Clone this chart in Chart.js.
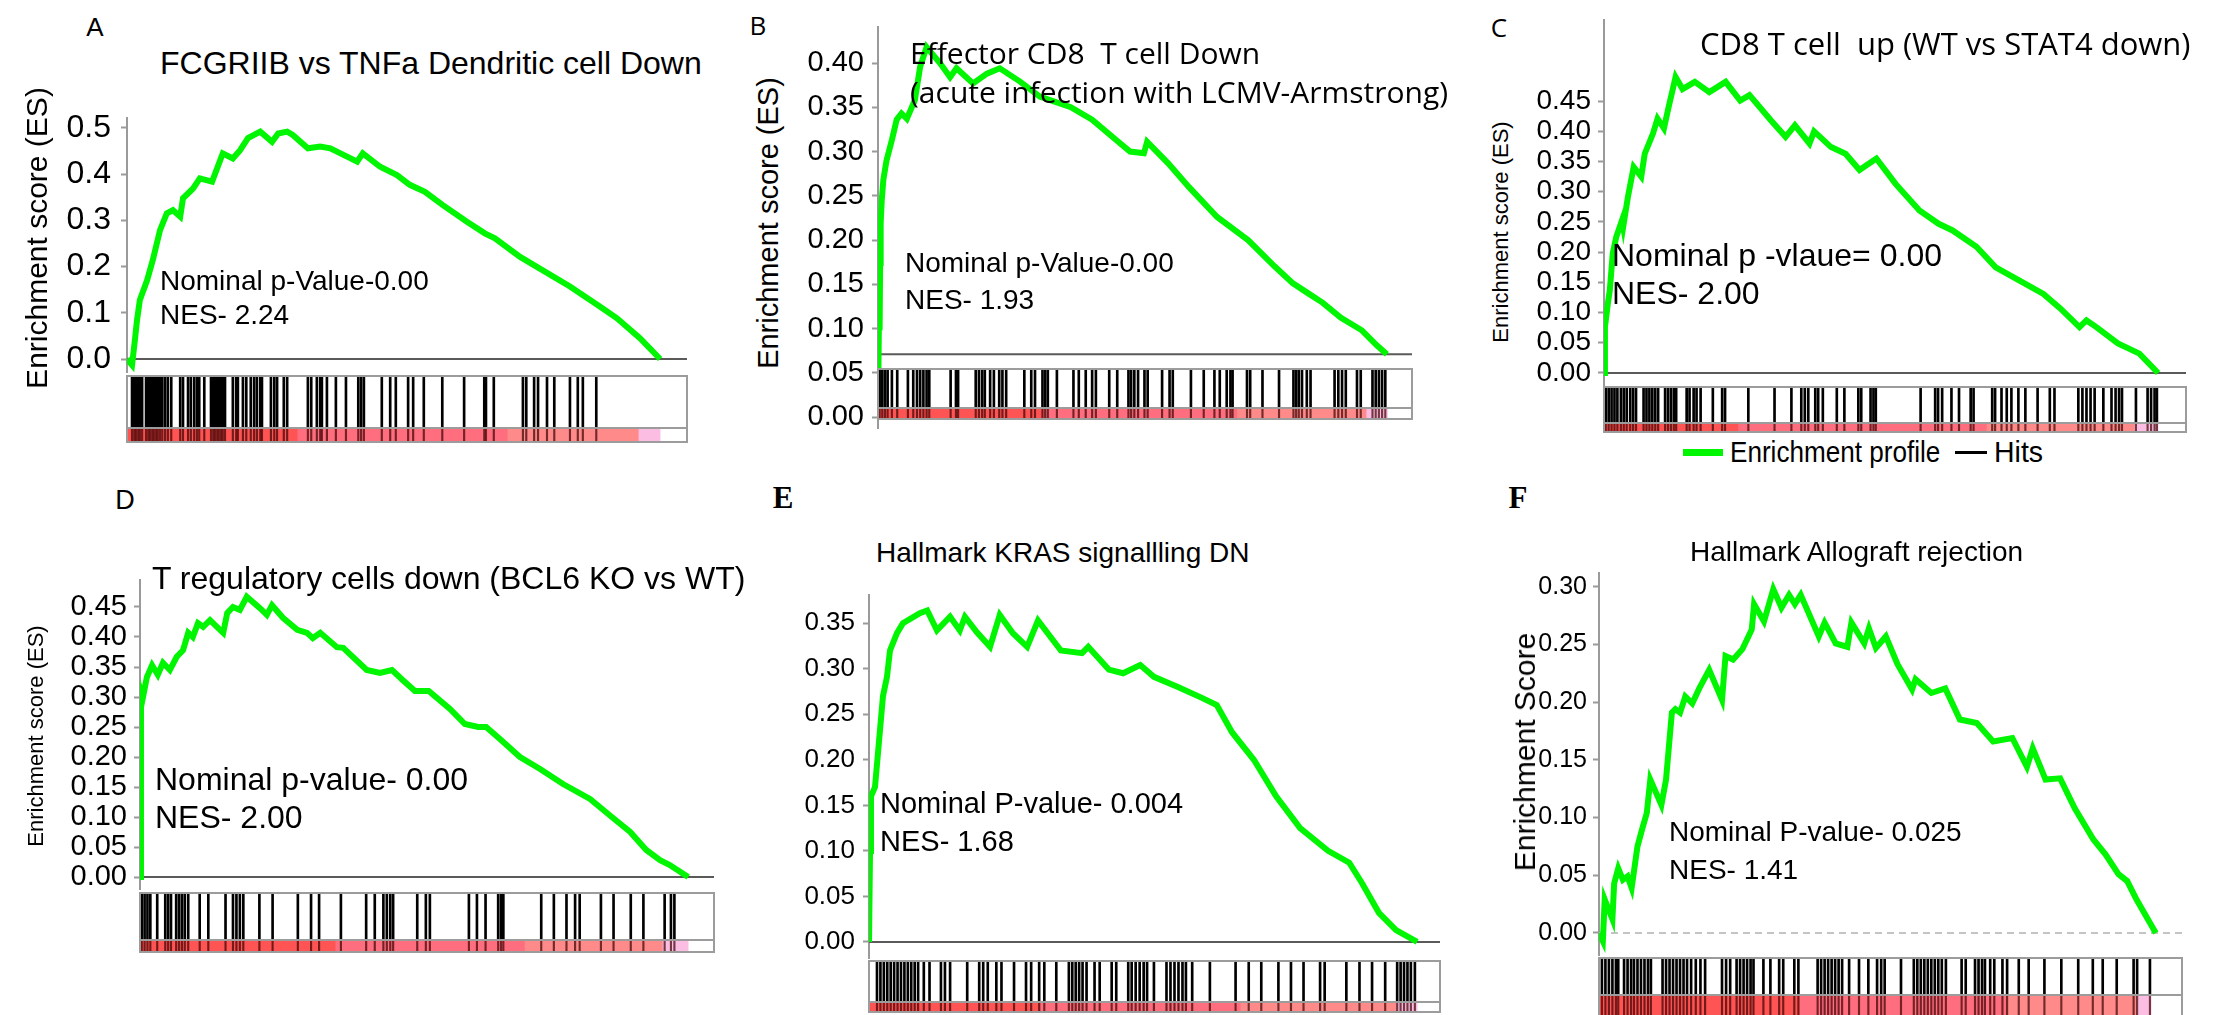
<!DOCTYPE html>
<html>
<head>
<meta charset="utf-8">
<script src="https://cdn.jsdelivr.net/npm/chart.js@4.4.1/dist/chart.umd.min.js"></script>
<style>
  body { margin:0; width:2225px; height:1015px; overflow:hidden; background:#fff; position:relative;
         font-family:'Liberation Sans', Arial, sans-serif; color:#000; }
  .t { position:absolute; white-space:pre; line-height:1; transform:translateY(-50%); transform-origin:left center; }
  .r { position:absolute; white-space:pre; line-height:1; transform:translate(-50%,-50%) rotate(-90deg); }
  canvas { position:absolute; }
</style>
</head>
<body>
<script>
// ---------- data (rank position in % of ranked list, enrichment score) ----------
const rankA = [0,0.9,1.4,1.8,2.3,3.6,4.6,5.9,7.1,8.2,9.5,10.0,11.8,13.0,15.2,17.1,18.9,20.2,21.6,23.8,25.9,27.0,28.6,29.6,32.3,34.5,36.3,39.3,41.1,42.1,45.2,48.2,50.5,53.2,56.4,60.7,63.9,65.7,70.2,79.1,84.5,87.5,91.6,95.2];
const esA   = [0,-0.013,0.04,0.085,0.128,0.171,0.214,0.279,0.315,0.322,0.308,0.348,0.369,0.391,0.384,0.445,0.434,0.452,0.478,0.492,0.470,0.488,0.492,0.485,0.456,0.460,0.456,0.438,0.427,0.445,0.416,0.398,0.377,0.362,0.333,0.297,0.272,0.261,0.221,0.157,0.113,0.088,0.045,0];
const hitsA = [0.9,1.3,1.6,2.0,2.3,2.7,3.4,3.8,4.1,4.5,4.8,5.2,5.5,5.9,6.3,6.8,7.3,7.9,9.5,10.0,10.9,11.4,12.0,12.5,12.9,13.8,15.0,15.4,15.7,16.1,16.4,16.8,17.1,17.5,18.9,19.5,19.8,20.7,21.3,22.1,22.7,23.2,23.8,24.1,25.7,26.3,26.8,28.0,28.6,32.3,32.9,33.9,34.5,34.8,35.7,37.3,39.1,41.3,41.8,42.3,45.5,47.0,48.0,50.2,51.1,53.0,56.3,60.2,63.8,64.1,65.5,70.7,71.3,72.7,73.4,75.0,76.3,79.1,80.5,81.4,83.8];
const ticksA = [0, 0.1, 0.2, 0.3, 0.4, 0.5];
const stripA = [30.4, 67.9, 91.3, 95.2];

const rankB = [0,0.2,0.3,0.4,0.5,0.7,1.0,1.6,2.6,3.5,4.4,5.4,6.9,7.9,9.1,11.6,13.5,14.7,17.8,20.4,22.8,26.6,30.3,36.1,40.1,44.6,47.2,49.8,50.4,54.3,58.2,63.5,69.3,74.3,77.7,80.5,83.3,86.7,90.6,93.4,95.3];
const esB   = [0,0.127,0.098,0.174,0.219,0.245,0.268,0.29,0.313,0.336,0.343,0.337,0.358,0.396,0.418,0.40,0.384,0.394,0.377,0.388,0.394,0.379,0.362,0.35,0.336,0.313,0.30,0.298,0.311,0.287,0.26,0.226,0.20,0.17,0.151,0.140,0.129,0.112,0.098,0.081,0.071];
const hitsB = [0.3,0.8,1.3,1.8,2.6,3.6,5.6,6.6,7.3,7.9,8.5,9.1,9.6,13.6,14.6,15.0,18.3,18.9,19.5,20.0,21.0,21.7,22.7,23.3,24.0,27.4,28.7,29.4,30.8,31.3,31.8,33.5,36.6,37.6,38.9,40.1,40.8,43.3,44.8,46.9,47.4,48.0,48.7,49.9,50.5,53.2,54.6,55.2,58.6,61.0,63.0,64.0,65.3,66.0,66.4,69.1,69.7,72.0,75.1,77.8,78.3,78.8,79.4,80.3,81.0,85.5,86.2,86.9,87.6,89.7,90.4,92.6,93.2,93.8,94.4,95.0];
const ticksB = [0, 0.05, 0.10, 0.15, 0.20, 0.25, 0.30, 0.35, 0.40];
const stripB = [30.9, 67.2, 91.4, 95.4];
const baseB = 0.071;

const rankC = [0,0.16,0.66,1.0,1.5,2.1,3.1,3.3,4.1,5.1,6.4,7.0,8.4,9.2,10.3,11.1,12.3,13.5,15.6,18.1,20.9,23.4,25.0,28.7,31.2,32.8,35.3,36.1,39.0,41.5,43.9,46.8,50.1,54.2,57.5,59.9,64.0,67.3,71.4,75.5,78.4,81.7,82.9,84.6,88.3,92.0,95.2];
const esC   = [0,0.076,0.115,0.137,0.198,0.225,0.253,0.242,0.291,0.341,0.325,0.363,0.396,0.421,0.405,0.44,0.49,0.47,0.482,0.465,0.482,0.451,0.46,0.418,0.391,0.41,0.38,0.40,0.374,0.363,0.336,0.355,0.313,0.269,0.247,0.236,0.209,0.175,0.153,0.131,0.107,0.076,0.087,0.076,0.049,0.032,0];
const hitsC = [0.3,0.8,1.3,1.8,2.3,2.9,3.4,3.9,4.5,5.0,5.5,6.8,7.3,7.8,8.3,8.8,9.3,10.5,11.0,11.5,12.0,12.4,14.2,14.7,15.4,15.9,16.6,18.7,20.3,20.8,24.8,29.3,32.2,33.9,34.5,35.1,36.3,36.8,37.6,40.0,41.3,43.7,44.2,45.8,46.3,46.7,54.4,56.9,57.4,58.1,59.7,61.0,63.0,63.5,66.7,67.2,68.3,69.2,70.0,71.2,72.4,74.5,76.6,77.4,81.5,82.2,82.9,83.6,84.3,85.8,87.2,87.9,88.5,89.0,91.4,93.4,94.0,94.6,95.0];
const ticksC = [0, 0.05, 0.10, 0.15, 0.20, 0.25, 0.30, 0.35, 0.40, 0.45];
const stripC = [23.0, 65.7, 91.1, 95.2];

const rankD = [0,0.17,0.52,1.2,2.1,3.1,4.0,5.2,6.4,7.5,8.4,9.2,10.1,11.0,12.2,13.4,14.5,15.2,16.2,17.4,18.6,20.9,22.1,23.0,24.9,27.4,29.1,30.1,31.4,34.3,35.4,39.5,41.8,43.9,45.8,47.9,50.3,54.0,56.6,58.9,60.3,62.7,66.2,69.7,73.7,78.4,82.2,85.4,88.2,90.6,92.3,95.5];
const esD   = [0,0.31,0.30,0.333,0.353,0.337,0.357,0.345,0.367,0.378,0.407,0.40,0.423,0.417,0.428,0.417,0.407,0.44,0.45,0.445,0.467,0.448,0.437,0.453,0.432,0.412,0.407,0.398,0.407,0.383,0.382,0.345,0.34,0.345,0.328,0.31,0.31,0.28,0.255,0.25,0.25,0.23,0.20,0.18,0.155,0.13,0.10,0.075,0.045,0.028,0.02,0];
const hitsD = [0.3,0.8,1.3,1.8,3.0,4.4,4.9,5.4,6.3,6.8,7.3,7.8,8.4,10.4,11.9,14.9,16.2,16.8,17.4,18.0,20.8,23.1,27.5,29.8,31.2,35.0,39.4,40.9,42.4,43.0,43.6,44.1,48.3,49.8,50.5,57.3,58.7,60.2,62.4,62.9,63.3,69.9,72.1,74.3,75.8,76.6,80.3,82.5,85.5,87.7,91.4,92.5,93.1];
const ticksD = [0, 0.05, 0.10, 0.15, 0.20, 0.25, 0.30, 0.35, 0.40, 0.45];
const stripD = [34.0, 67.0, 91.0, 95.5];

const rankE = [0,0.18,0.35,1.05,1.75,2.45,3.15,3.68,4.9,5.95,8.9,10.2,11.9,14.2,15.9,16.8,18.9,21.2,22.9,25.2,27.7,29.6,33.6,37.3,38.4,42.0,44.5,47.5,49.9,54.1,58.3,60.9,63.6,67.4,71.3,75.5,80.4,84.1,86.3,89.3,92.3,96.0];
const esE   = [0,0.10,0.16,0.17,0.22,0.27,0.291,0.32,0.339,0.35,0.361,0.364,0.342,0.357,0.342,0.357,0.34,0.324,0.359,0.339,0.324,0.353,0.32,0.317,0.324,0.299,0.295,0.304,0.291,0.28,0.268,0.26,0.23,0.20,0.16,0.125,0.10,0.087,0.065,0.032,0.013,0];
const hitsE = [1.4,2.0,2.6,3.2,3.8,4.4,5.0,5.6,6.2,6.8,7.4,8.0,8.6,9.6,10.6,12.6,13.3,14.2,17.2,19.3,20.0,20.8,22.3,23.2,25.4,27.5,28.4,29.8,30.7,32.8,35.0,35.6,36.2,36.8,37.4,38.1,39.5,40.4,42.5,43.3,45.4,46.0,46.7,47.4,48.1,48.7,49.9,52.1,52.8,53.5,54.2,54.9,55.5,56.6,59.7,64.2,66.5,68.7,71.7,73.9,76.1,79.0,79.8,83.6,85.9,88.1,90.4,92.5,93.1,93.7,94.3,94.9,95.6];
const ticksE = [0, 0.05, 0.10, 0.15, 0.20, 0.25, 0.30, 0.35];
const stripE = [30.0, 65.0, 92.3, 96.0];

const rankF = [0,0.66,0.98,2.3,2.6,3.3,4.1,4.9,5.6,6.6,7.4,8.2,8.8,10.7,11.5,12.0,12.5,13.1,13.9,14.8,16.0,17.2,18.9,21.1,21.7,23.0,24.6,26.2,26.6,28.3,29.9,31.3,32.6,33.6,34.6,37.7,38.7,40.6,42.6,43.3,45.5,46.3,47.5,49.2,51.2,53.7,54.3,57.0,59.4,61.9,64.8,67.6,70.9,73.4,74.4,76.6,79.1,81.6,84.8,86.9,89.1,90.6,92.2,95.5];
const esF   = [0,-0.007,0.029,0.012,0.043,0.056,0.046,0.049,0.039,0.075,0.09,0.104,0.133,0.111,0.133,0.162,0.191,0.194,0.191,0.205,0.199,0.212,0.228,0.202,0.24,0.237,0.246,0.263,0.285,0.27,0.298,0.282,0.293,0.285,0.293,0.257,0.269,0.251,0.248,0.269,0.251,0.264,0.247,0.257,0.233,0.211,0.22,0.208,0.212,0.185,0.182,0.166,0.169,0.144,0.16,0.133,0.134,0.108,0.081,0.068,0.051,0.045,0.029,0];
const hitsF = [0.5,1.1,1.7,2.3,2.9,3.3,4.3,4.9,5.5,6.0,6.6,7.2,7.8,8.4,8.9,10.9,11.5,12.1,12.7,13.3,13.9,14.5,15.1,15.8,16.6,17.4,18.2,21.1,21.8,22.5,23.6,24.2,24.8,25.4,26.0,26.5,28.2,29.4,30.9,31.6,33.5,34.2,37.5,38.1,38.7,39.3,39.9,40.5,41.1,41.7,42.9,44.6,46.2,47.7,48.4,49.0,51.8,54.0,54.6,55.2,55.8,56.4,57.0,57.6,58.2,58.8,59.5,62.2,62.9,64.5,65.1,65.7,66.2,67.1,67.8,69.2,70.0,72.0,73.7,76.4,79.3,82.2,84.7,86.4,88.8,91.7,92.3,94.5];
const ticksF = [0, 0.05, 0.10, 0.15, 0.20, 0.25, 0.30];
const stripF = [34.4, 70.0, 92.2, 94.7];

const stripColors = ['#ff5454', '#ff6e7e', '#ff8a8a', '#fcbde2', '#ffffff'];

// ---------- layout ----------
const SANS = "'Liberation Sans', Arial, sans-serif";
const OPEN = "'Open Sans', sans-serif";
const NARROW = "'Liberation Sans Narrow', 'Arial Narrow', 'Liberation Sans', sans-serif";
const SERIF = "'Liberation Serif', 'Times New Roman', serif";

const panels = [
  { rank: rankA, es: esA, hits: hitsA, ticks: ticksA, strip: stripA, base: 0, dec: 1,
    L: 127, R: 687, T: 118, B: 372, ymin: -0.0281, ymax: 0.5216, box: [376, 428, 442],
    tickFont: { family: SANS, size: 32 }, tickPad: 10 },
  { rank: rankB, es: esB, hits: hitsB, ticks: ticksB, strip: stripB, base: baseB, dec: 2,
    L: 878, R: 1412, T: 27, B: 428, ymin: -0.0124, ymax: 0.4407, box: [369, 408, 419],
    tickFont: { family: SANS, size: 29 }, tickPad: 8 },
  { rank: rankC, es: esC, hits: hitsC, ticks: ticksC, strip: stripC, base: 0, dec: 2,
    L: 1604, R: 2186, T: 20, B: 385, ymin: -0.0199, ymax: 0.5844, box: [387, 423, 432],
    tickFont: { family: SANS, size: 28 }, tickPad: 7 },
  { rank: rankD, es: esD, hits: hitsD, ticks: ticksD, strip: stripD, base: 0, dec: 2,
    L: 140, R: 714, T: 580, B: 889, ymin: -0.02, ymax: 0.495, box: [893, 940, 952],
    tickFont: { family: SANS, size: 29 }, tickPad: 7 },
  { rank: rankE, es: esE, hits: hitsE, ticks: ticksE, strip: stripE, base: 0, dec: 2,
    L: 869, R: 1440, T: 595, B: 958, ymin: -0.0176, ymax: 0.3809, box: [961, 1002, 1012],
    tickFont: { family: NARROW, size: 26 }, tickPad: 8 },
  { rank: rankF, es: esF, hits: hitsF, ticks: ticksF, strip: stripF, base: 0, dec: 2, dashedBase: true,
    L: 1599, R: 2182, T: 573, B: 955, ymin: -0.0191, ymax: 0.312, box: [958, 995, 1018],
    tickFont: { family: NARROW, size: 25 }, tickPad: 6 }
];

Chart.defaults.animation = false;
Chart.defaults.events = [];
Chart.defaults.plugins.legend.display = false;
Chart.defaults.plugins.tooltip.enabled = false;

function mk(cls, css, text) {
  const e = document.createElement('div');
  if (cls) e.className = cls;
  e.style.cssText = css;
  if (text) e.textContent = text;
  document.body.appendChild(e);
  return e;
}

function canvasAt(x, y, w, h) {
  const c = document.createElement('canvas');
  c.width = w; c.height = h;
  c.style.cssText = `left:${x}px;top:${y}px;width:${w}px;height:${h}px`;
  document.body.appendChild(c);
  return c;
}

function drawHits(p) {
  const [top, stripTop, bottom] = p.box;
  const w = p.R - p.L;
  const edges = [0, ...p.strip, 100];
  new Chart(canvasAt(p.L, stripTop, w, bottom - stripTop), {
    type: 'bar',
    data: { labels: ['metric'], datasets: edges.slice(0, -1).map((e, i) => ({
      data: [[e, edges[i + 1]]], backgroundColor: stripColors[i], borderWidth: 0,
      barPercentage: 1, categoryPercentage: 1, grouped: false })) },
    options: { indexAxis: 'y', responsive: false, layout: { padding: 0 },
      scales: { x: { type: 'linear', min: 0, max: 100, display: false }, y: { display: false } } }
  });
  const f = (bottom - stripTop) / (bottom - top);
  new Chart(canvasAt(p.L, top, w, bottom - top), {
    type: 'bar',
    data: { datasets: [
      { data: p.hits.map(h => ({ x: h, y: [f, 1] })), backgroundColor: '#000', barThickness: 2, grouped: false },
      { data: p.hits.map(h => ({ x: h, y: [0, f] })), backgroundColor: 'rgba(60,0,0,0.7)', barThickness: 1.5, grouped: false }
    ] },
    options: { responsive: false, layout: { padding: 0 },
      scales: { x: { type: 'linear', min: 0, max: 100, display: false, offset: false },
                y: { min: 0, max: 1, display: false } } }
  });
  mk('', `position:absolute;left:${p.L - 1}px;top:${top - 1}px;width:${w + 2}px;height:${bottom - top + 2}px;border:2px solid #9c9c9c;box-sizing:border-box`);
  mk('', `position:absolute;left:${p.L}px;top:${stripTop - 1}px;width:${w}px;height:2px;background:#9c9c9c`);
}

function drawProfile(p) {
  const LW = 90, PT = 22, PR = 4, PB = 18;
  const c = canvasAt(p.L - LW, p.T - PT, LW + (p.R - p.L) + PR, PT + (p.B - p.T) + PB);
  new Chart(c, {
    type: 'line',
    data: { datasets: [
      { data: p.rank.map((r, i) => ({ x: r, y: p.es[i] })), borderColor: '#00f500', borderWidth: 6,
        pointRadius: 0, tension: 0, order: 1 },
      { data: [{ x: 0, y: p.base }, { x: 100, y: p.base }], borderColor: p.dashedBase ? '#c4c4c4' : '#5a5a5a',
        borderWidth: 2, borderDash: p.dashedBase ? [7, 5] : [], pointRadius: 0, order: 2 }
    ] },
    options: {
      responsive: false,
      layout: { padding: { top: PT, right: PR, bottom: PB, left: 0 } },
      scales: {
        x: { type: 'linear', min: 0, max: 100, display: false },
        y: { type: 'linear', min: p.ymin, max: p.ymax,
          afterBuildTicks: s => { s.ticks = p.ticks.map(v => ({ value: v })); },
          afterFit: s => { s.width = LW; s.paddingTop = 0; s.paddingBottom = 0; },
          ticks: { callback: v => v.toFixed(p.dec), font: p.tickFont, color: '#000', padding: p.tickPad, autoSkip: false },
          grid: { drawOnChartArea: false, drawTicks: true, tickLength: 6, tickColor: '#9a9a9a', tickWidth: 2 },
          border: { display: true, color: '#9a9a9a', width: 2, dash: [6, 3] }
        }
      }
    }
  });
}

panels.forEach(p => { drawProfile(p); drawHits(p); });

// ---------- texts ----------
const T = (x, y, s, font, size, extra) => mk('t', `left:${x}px;top:${y}px;font-family:${font};font-size:${size}px;${extra || ''}`, s);
const V = (x, y, s, font, size) => mk('r', `left:${x}px;top:${y}px;font-family:${font};font-size:${size}px`, s);
const C = (x, y, s, font, size, extra) => mk('r', `left:${x}px;top:${y}px;font-family:${font};font-size:${size}px;transform:translate(-50%,-50%);${extra || ''}`, s);

// panel letters
C(95, 27, 'A', SANS, 26);
C(758, 25, 'B', OPEN, 26);
C(1499, 27, 'C', OPEN, 26);
C(125, 500, 'D', SANS, 27);
C(783, 497, 'E', SERIF, 31, 'font-weight:bold');
C(1518, 497, 'F', SERIF, 31, 'font-weight:bold');

// titles
T(160, 63, 'FCGRIIB vs TNFa Dendritic cell Down', SANS, 32);
T(910, 53, 'Effector CD8  T cell Down', OPEN, 30);
T(910, 92, '(acute infection with LCMV-Armstrong)', OPEN, 30);
T(1700, 43, 'CD8 T cell  up (WT vs STAT4 down)', OPEN, 31);
T(152, 578, 'T regulatory cells down (BCL6 KO vs WT)', SANS, 32);
T(876, 553, 'Hallmark KRAS signallling DN', SANS, 28);
T(1690, 552, 'Hallmark Allograft rejection', SANS, 28);

// axis titles
V(37, 238, 'Enrichment score (ES)', SANS, 30);
V(768, 223, 'Enrichment score (ES)', SANS, 29);
V(1501, 232, 'Enrichment score (ES)', SANS, 22);
V(36, 736, 'Enrichment score (ES)', SANS, 22);
V(1525, 752, 'Enrichment Score', SANS, 30);

// statistics
T(160, 281, 'Nominal p-Value-0.00', SANS, 28);
T(160, 315, 'NES- 2.24', SANS, 28);
T(905, 263, 'Nominal p-Value-0.00', SANS, 28);
T(905, 300, 'NES- 1.93', SANS, 28);
T(1612, 255, 'Nominal p -vlaue= 0.00', SANS, 32);
T(1612, 293, 'NES- 2.00', SANS, 32);
T(155, 779, 'Nominal p-value- 0.00', SANS, 32);
T(155, 817, 'NES- 2.00', SANS, 32);
T(880, 803, 'Nominal P-value- 0.004', SANS, 29);
T(880, 841, 'NES- 1.68', SANS, 29);
T(1669, 832, 'Nominal P-value- 0.025', SANS, 28);
T(1669, 870, 'NES- 1.41', SANS, 28);

// legend of panel C
mk('', 'position:absolute;left:1683px;top:449px;width:40px;height:7px;background:#00f500');
T(1730, 452, 'Enrichment profile', SANS, 30, 'transform:translateY(-50%) scaleX(0.87)');
mk('', 'position:absolute;left:1955px;top:451px;width:32px;height:3px;background:#000');
T(1994, 452, 'Hits', SANS, 30, 'transform:translateY(-50%) scaleX(0.95)');
</script>
</body>
</html>
